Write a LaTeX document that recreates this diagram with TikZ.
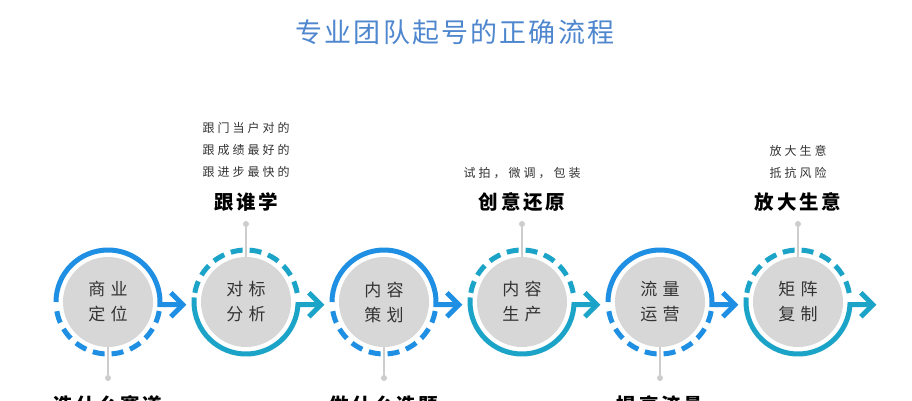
\documentclass[tikz,border=0pt]{standalone}
\usepackage{fontspec}
\newfontfamily\cjk{Noto Sans CJK SC}
\newfontfamily\cjktitle[LetterSpace=8]{Noto Sans CJK SC}
\newfontfamily\cjkin[LetterSpace=30]{Noto Sans CJK SC}
\newfontfamily\cjksmall[LetterSpace=25]{Noto Sans CJK SC}
\newfontfamily\cjkbold[LetterSpace=14]{Noto Sans CJK SC}
\definecolor{cblue}{HTML}{1E8FE3}
\definecolor{cteal}{HTML}{1CA4C8}
\definecolor{ctitle}{HTML}{4F87CF}
\definecolor{cgray}{HTML}{D7D7D7}
\definecolor{cline}{HTML}{CDCDCD}
\definecolor{ctext}{HTML}{333333}
\begin{document}
\begin{tikzpicture}[x=1pt,y=1pt,
  ring/.style={line width=5pt},
  dashring/.style={line width=5pt,dash pattern=on 12pt off 7pt},
  chev/.style={line width=5pt,line join=miter,line cap=butt},
  core/.style={circle,fill=cgray,minimum size=90pt,inner sep=0pt},
  intext/.style={text=ctext,align=center,font=\cjkin\fontsize{17}{25}\selectfont},
  smalltxt/.style={text=ctext,font=\cjksmall\fontsize{12}{14}\selectfont,inner sep=0pt},
  boldtxt/.style={text=black,font=\cjkbold\bfseries\fontsize{19.5}{22}\selectfont,inner sep=0pt},
  pindot/.style={circle,fill=cline,minimum size=6pt,inner sep=0pt},
  pin/.style={draw=cline,line width=1.5pt}]
\useasboundingbox (0,0) rectangle (912,-400);
\fill[white] (0,0) rectangle (912,-400);

% title
\node[text=ctitle,font=\cjktitle\fontsize{27}{30}\selectfont] (title) at (455,-32) {专业团队起号的正确流程};

% centres
\foreach \i/\x in {1/108,2/246,3/384,4/522,5/660,6/798}{
  \coordinate (o\i) at (\x,-302);
}

% pins (behind)
\node[pindot] (d1) at (108,-378) {};
\node[pindot] (d2) at (246,-224) {};
\node[pindot] (d3) at (384,-378) {};
\node[pindot] (d4) at (522,-224) {};
\node[pindot] (d5) at (660,-378) {};
\node[pindot] (d6) at (798,-224) {};
\draw[pin] (o1) -- (d1);
\draw[pin] (o2) -- (d2);
\draw[pin] (o3) -- (d3);
\draw[pin] (o4) -- (d4);
\draw[pin] (o5) -- (d5);
\draw[pin] (o6) -- (d6);

% cores
\node[core] (g1) at (o1) {};
\node[core] (g2) at (o2) {};
\node[core] (g3) at (o3) {};
\node[core] (g4) at (o4) {};
\node[core] (g5) at (o5) {};
\node[core] (g6) at (o6) {};
\node[intext] (n1) at (g1) {商业\\定位};
\node[intext] (n2) at (g2) {对标\\分析};
\node[intext] (n3) at (g3) {内容\\策划};
\node[intext] (n4) at (g4) {内容\\生产};
\node[intext] (n5) at (g5) {流量\\运营};
\node[intext] (n6) at (g6) {矩阵\\复制};

% rings: odd = blue, solid top
\foreach \i in {1,3,5}{
  \draw[ring,cblue] ([shift={(180:52)}]o\i) arc (180:-3:52) -- ++(23,0) coordinate (t\i);
  \draw[chev,cblue] ([shift={(-12,12)}]t\i) -- (t\i) -- ([shift={(-12,-12)}]t\i);
  \draw[dashring,cblue] ([shift={(-10:52)}]o\i) arc (-10:-170:52);
}
% even = teal, solid bottom
\foreach \i in {2,4,6}{
  \draw[ring,cteal] ([shift={(175:52)}]o\i) arc (175:357:52) -- ++(23,0) coordinate (t\i);
  \draw[chev,cteal] ([shift={(-12,12)}]t\i) -- (t\i) -- ([shift={(-12,-12)}]t\i);
  \draw[dashring,cteal] ([shift={(10:52)}]o\i) arc (10:170:52);
}

% labels above
\node[smalltxt] (a2a) at (246,-128) {跟门当户对的};
\node[smalltxt] (a2b) at (246,-150) {跟成绩最好的};
\node[smalltxt] (a2c) at (246,-172) {跟进步最快的};
\node[boldtxt] (a2) at (246,-202) {跟谁学};
\node[smalltxt] (a4a) at (522,-173) {试拍，微调，包装};
\node[boldtxt] (a4) at (522,-202) {创意还原};
\node[smalltxt] (a6a) at (798,-151) {放大生意};
\node[smalltxt] (a6b) at (798,-173) {抵抗风险};
\node[boldtxt] (a6) at (798,-202) {放大生意};

% labels below (cut by the frame, as in the reference)
\node[boldtxt] (b1) at (108,-405) {选什么赛道};
\node[boldtxt] (b3) at (384,-405) {做什么选题};
\node[boldtxt] (b5) at (660,-405) {提高流量};
\end{tikzpicture}
\end{document}
